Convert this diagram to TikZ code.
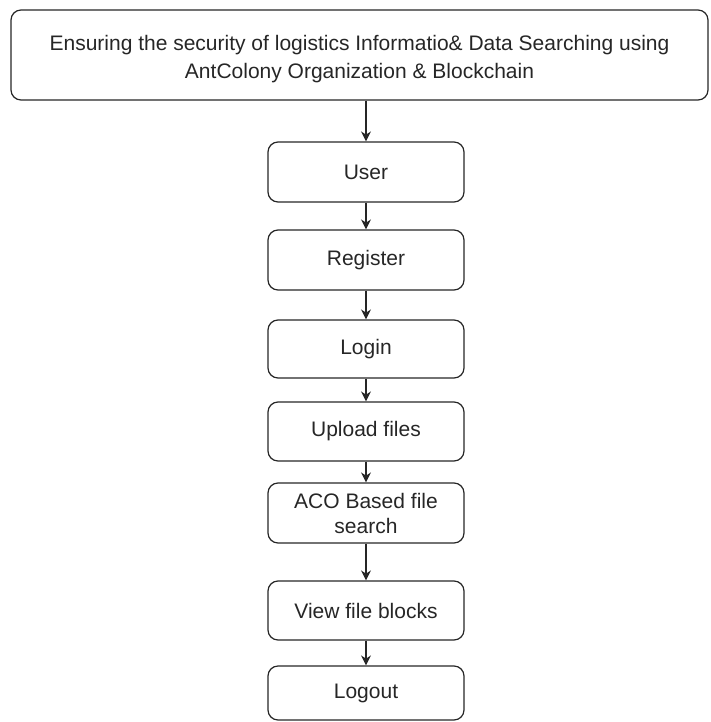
\documentclass[tikz,border=0pt]{standalone}
\usepackage{fontspec}
\setmainfont{Liberation Sans}
\usetikzlibrary{arrows.meta}
\begin{document}
\begin{tikzpicture}[x=1pt,y=-1pt,
  box/.style={draw=black!85,line width=1.2pt,rounded corners=10pt,minimum width=196pt,align=center,font=\fontsize{21}{25}\selectfont,text=black!85,inner sep=2pt},
  lbl/.style={align=center,font=\fontsize{21}{28}\selectfont,text=black!85,inner sep=0pt},
  arr/.style={draw=black!85,line width=1.3pt,-{Stealth[length=10pt,width=10pt]}}]
\useasboundingbox (0,0) rectangle (711,722);
\node[box,minimum width=697pt,minimum height=90pt] (title) at (359.5,55) {};
\node[lbl] (titletext) at (359.5,59) {Ensuring the security of logistics Informatio\& Data Searching using\\AntColony Organization \& Blockchain};
\node[box,minimum height=60pt] (user) at (366,172) {User};
\node[box,minimum height=60pt] (reg) at (366,260) {Register};
\node[box,minimum height=58pt] (login) at (366,349) {Login};
\node[box,minimum height=59pt] (upload) at (366,431.5) {Upload files};
\node[box,minimum height=60pt] (aco) at (366,513) {ACO Based file\\search};
\node[box,minimum height=59pt] (view) at (366,610.5) {View file blocks};
\node[box,minimum height=54pt] (logout) at (366,693) {Logout};
\draw[arr] (title.south -| user.north) -- (user.north);
\draw[arr] (user) -- (reg);
\draw[arr] (reg) -- (login);
\draw[arr] (login) -- (upload);
\draw[arr] (upload) -- (aco);
\draw[arr] (aco) -- (view);
\draw[arr] (view) -- (logout);
\end{tikzpicture}
\end{document}
